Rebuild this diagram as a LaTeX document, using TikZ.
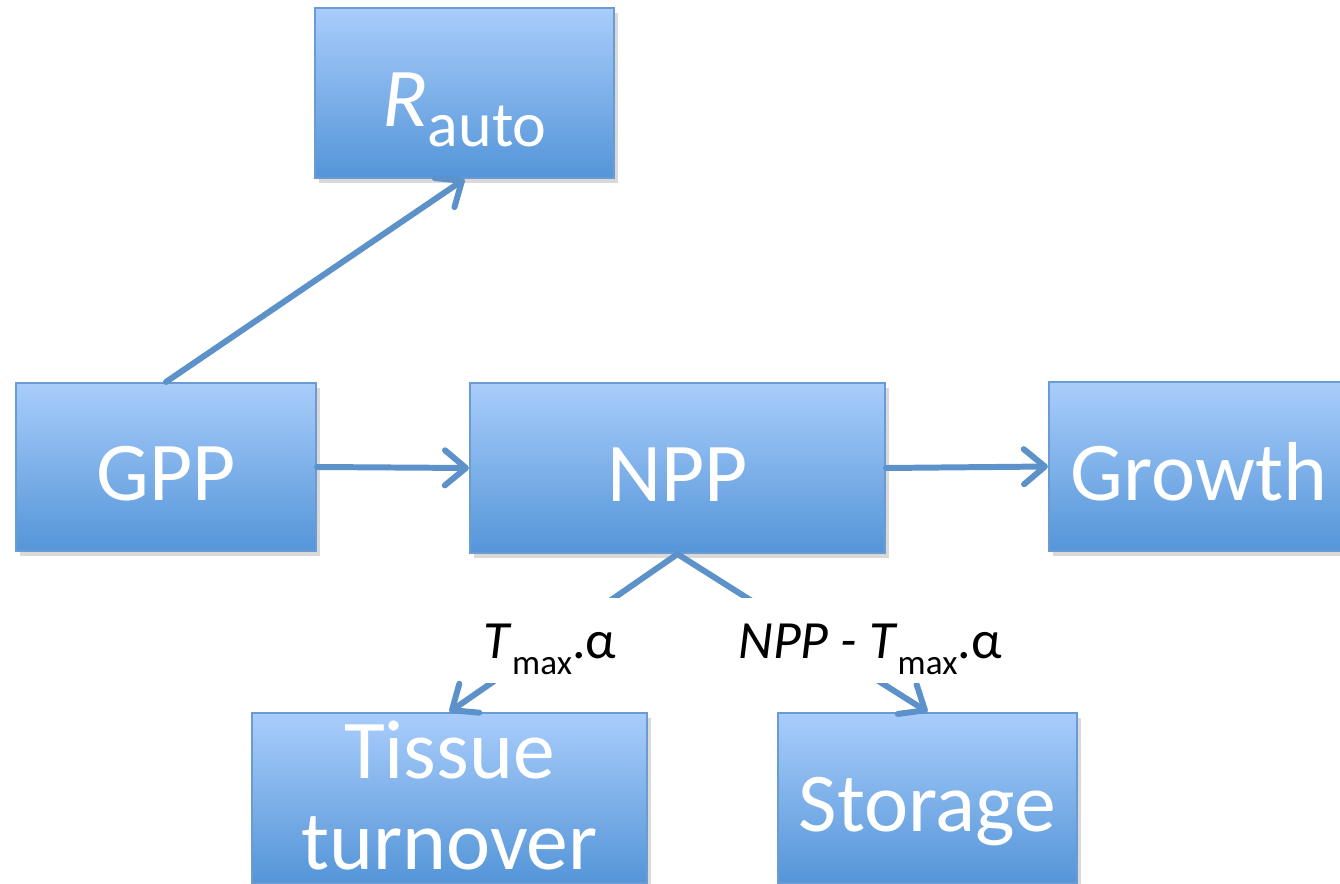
\documentclass[tikz,border=0pt]{standalone}
\usepackage{fontspec}
\setmainfont{Carlito}
\usetikzlibrary{arrows.meta,shadows}
\definecolor{boxtop}{RGB}{169,205,251}
\definecolor{boxbot}{RGB}{84,149,216}
\definecolor{boxline}{RGB}{106,155,210}
\definecolor{flow}{RGB}{92,145,201}
\tikzset{
  pool/.style={draw=boxline,line width=0.6pt,top color=boxtop,bottom color=boxbot,
    text=white,inner sep=0pt,font=\fontsize{23.8}{25.9}\selectfont,
    text height=19.3pt,text depth=0pt,
    drop shadow={shadow xshift=1.2pt,shadow yshift=-1.5pt,opacity=0.3}},
  flux/.style={flow,line width=1.7pt,line cap=round,-{Straight Barb[length=6pt,width=10pt,round]}},
  rate/.style={fill=white,inner xsep=2pt,inner ysep=0pt,text height=17.1pt,text depth=7.1pt,
    font=\fontsize{15.3}{17}\selectfont}
}
\newcommand{\lowtext}[3]{\raisebox{-#1}{\fontsize{#2}{#2}\selectfont #3}}

\begin{document}
\begin{tikzpicture}[x=1cm,y=1cm]
  \useasboundingbox (0,0) rectangle (13.40,8.83);
  \clip (0,0) rectangle (13.40,8.83);
  % pools
  \node[pool,minimum width=2.99cm,minimum height=1.70cm] (rauto) at (4.645,7.90)
    {\textit{R}\lowtext{5.7pt}{18.2}{auto}};
  \node[pool,minimum width=3.00cm,minimum height=1.68cm] (gpp) at (1.66,4.16) {GPP};
  \node[pool,minimum width=4.15cm,minimum height=1.70cm] (npp) at (6.775,4.15) {NPP};
  \node[pool,minimum width=3.00cm,minimum height=1.69cm] (growth) at (11.99,4.165) {Growth};
  \node[pool,minimum width=3.95cm,minimum height=1.70cm,align=center,
    text height=40.5pt] (tissue) at (4.495,0.85) {Tissue\\turnover};
  \node[pool,minimum width=2.99cm,minimum height=1.70cm] (storage) at (9.275,0.85) {Storage};
  % fluxes
  \draw[flux] (gpp.north) -- (rauto.south);
  \draw[flux] (gpp.east) -- (npp.west);
  \draw[flux] (npp.east) -- (growth.west);
  \draw[flux] (npp.south) -- (tissue.north);
  \draw[flux] (npp.south) -- (storage.north);
  % allocation labels
  \node[rate,anchor=base] (turn) at (5.50,2.25)
    {\textit{T}\lowtext{4.8pt}{10}{max}.α};
  \node[rate,anchor=base] (store) at (8.70,2.25)
    {\textit{NPP - T}\lowtext{4.8pt}{10}{max}.α};
\end{tikzpicture}
\end{document}
